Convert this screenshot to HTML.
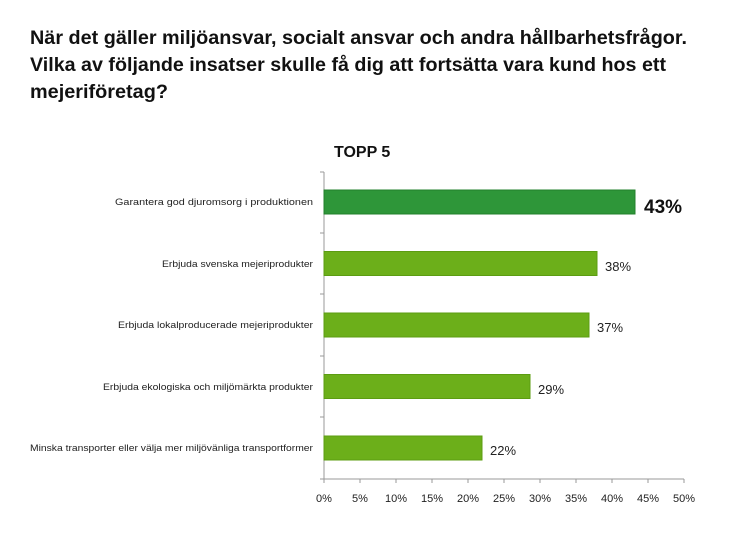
<!DOCTYPE html>
<html><head><meta charset="utf-8"><style>
body{margin:0;background:#fff;width:746px;height:538px;overflow:hidden;font-family:"Liberation Sans",sans-serif}
</style></head><body>
<svg width="746" height="538" xmlns="http://www.w3.org/2000/svg" font-family="Liberation Sans, sans-serif">
<text x="30" y="44" font-size="19" font-weight="bold" fill="#111" textLength="657" lengthAdjust="spacingAndGlyphs">När det gäller miljöansvar, socialt ansvar och andra hållbarhetsfrågor.</text>
<text x="30" y="71" font-size="19" font-weight="bold" fill="#111" textLength="636" lengthAdjust="spacingAndGlyphs">Vilka av följande insatser skulle få dig att fortsätta vara kund hos ett</text>
<text x="30" y="98" font-size="19" font-weight="bold" fill="#111" textLength="138" lengthAdjust="spacingAndGlyphs">mejeriföretag?</text>
<text x="334" y="157" font-size="16" font-weight="bold" fill="#111">TOPP 5</text>
<g stroke="#999" stroke-width="1">
<line x1="324" y1="172" x2="324" y2="479"/>
<line x1="324" y1="479" x2="684" y2="479"/>
<line x1="320" y1="172" x2="324" y2="172"/>
<line x1="320" y1="233" x2="324" y2="233"/>
<line x1="320" y1="294" x2="324" y2="294"/>
<line x1="320" y1="356" x2="324" y2="356"/>
<line x1="320" y1="417" x2="324" y2="417"/>
<line x1="320" y1="479" x2="324" y2="479"/>
<line x1="324" y1="479" x2="324" y2="483"/><line x1="360" y1="479" x2="360" y2="483"/><line x1="396" y1="479" x2="396" y2="483"/><line x1="432" y1="479" x2="432" y2="483"/><line x1="468" y1="479" x2="468" y2="483"/><line x1="504" y1="479" x2="504" y2="483"/><line x1="540" y1="479" x2="540" y2="483"/><line x1="576" y1="479" x2="576" y2="483"/><line x1="612" y1="479" x2="612" y2="483"/><line x1="648" y1="479" x2="648" y2="483"/><line x1="684" y1="479" x2="684" y2="483"/>
</g>
<rect x="324" y="190" width="311" height="24" fill="#2e9639" stroke="#23802c"/>
<rect x="324" y="251.5" width="273" height="24" fill="#6caf1a" stroke="#5c9c12"/>
<rect x="324" y="313" width="265" height="24" fill="#6caf1a" stroke="#5c9c12"/>
<rect x="324" y="374.5" width="206" height="24" fill="#6caf1a" stroke="#5c9c12"/>
<rect x="324" y="436" width="158" height="24" fill="#6caf1a" stroke="#5c9c12"/>
<g font-size="9.5" fill="#222">
<text x="115" y="205" textLength="198" lengthAdjust="spacingAndGlyphs">Garantera god djuromsorg i produktionen</text>
<text x="162" y="267" textLength="151" lengthAdjust="spacingAndGlyphs">Erbjuda svenska mejeriprodukter</text>
<text x="118" y="328" textLength="195" lengthAdjust="spacingAndGlyphs">Erbjuda lokalproducerade mejeriprodukter</text>
<text x="103" y="390" textLength="210" lengthAdjust="spacingAndGlyphs">Erbjuda ekologiska och miljömärkta produkter</text>
<text x="30" y="451" textLength="283" lengthAdjust="spacingAndGlyphs">Minska transporter eller välja mer miljövänliga transportformer</text>
</g>
<text x="644" y="213" font-size="19" font-weight="bold" fill="#111">43%</text>
<g font-size="13" fill="#222">
<text x="605" y="271">38%</text>
<text x="597" y="332">37%</text>
<text x="538" y="394">29%</text>
<text x="490" y="455">22%</text>
</g>
<g font-size="11" fill="#222" text-anchor="middle">
<text x="324" y="502">0%</text><text x="360" y="502">5%</text><text x="396" y="502">10%</text><text x="432" y="502">15%</text><text x="468" y="502">20%</text><text x="504" y="502">25%</text><text x="540" y="502">30%</text><text x="576" y="502">35%</text><text x="612" y="502">40%</text><text x="648" y="502">45%</text><text x="684" y="502">50%</text>
</g>
</svg>
</body></html>
